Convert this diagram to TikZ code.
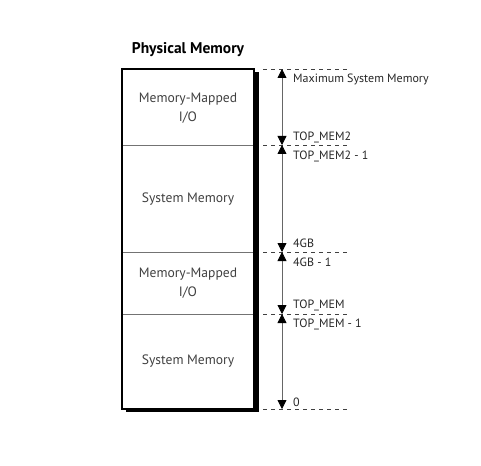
\documentclass[tikz,border=0pt]{standalone}
\usepackage{fontspec}
\setmainfont{PT Sans}
\usetikzlibrary{arrows.meta}

\tikzset{
  boxtext/.style={text=black!75, font=\fontsize{13.6}{15}\selectfont, align=center},
  levellabel/.style={anchor=west, text=black!85, font=\fontsize{12}{14}\selectfont, inner sep=0pt},
  levelline/.style={dashed, dash pattern=on 4pt off 4pt, black!75, line width=0.6pt},
  span/.style={{Triangle[width=9pt,length=9pt,color=black]}-{Triangle[width=9pt,length=9pt,color=black]}, black!60, line width=0.8pt}
}

\begin{document}
\begin{tikzpicture}[x=1pt, y=-1pt]
    \useasboundingbox (0,0) rectangle (481,465);

    % Title
    \node[font=\fontsize{15.5}{18}\selectfont\bfseries] (title) at (188,50) {Physical Memory};

    % Shadow of the memory map
    \fill[black] (254,72) rectangle (259,412);
    \fill[black] (126,408) rectangle (259,412);

    % Memory map (outer frame and dividers)
    \draw[black!55, line width=0.8pt] (122,145) -- (254,145);
    \draw[black!55, line width=0.8pt] (122,252) -- (254,252);
    \draw[black!55, line width=0.8pt] (122,314) -- (254,314);
    \draw[line width=1.6pt] (122,69) rectangle (254,409);

    % Region names
    \node[boxtext] (mmiohigh) at (188,108) {Memory-Mapped\\[4pt]I/O};
    \node[boxtext] (sysmemhigh) at (188,199) {System Memory};
    \node[boxtext] (mmiolow) at (188,283) {Memory-Mapped\\[4pt]I/O};
    \node[boxtext] (sysmemlow) at (188,361) {System Memory};

    % Address levels on the scale
    \coordinate (maxmem) at (282,69);
    \coordinate (topmemtwo) at (282,145);
    \coordinate (fourgb) at (282,252);
    \coordinate (topmem) at (282,314);
    \coordinate (zero) at (282,409);

    % Dashed marks for each level
    \draw[levelline] (263,69) -- (350,69);
    \draw[levelline] (263,145) -- (350,145);
    \draw[levelline] (263,252) -- (350,252);
    \draw[levelline] (263,314) -- (350,314);
    \draw[levelline] (263,409) -- (350,409);

    % Spans between levels
    \draw[span] (topmemtwo) -- (maxmem);
    \draw[span] (fourgb) -- (topmemtwo);
    \draw[span] (topmem) -- (fourgb);
    \draw[span] (zero) -- (topmem);

    % Level labels
    \node[levellabel] (lblmax) at (293,79) {Maximum System Memory};
    \node[levellabel] (lbltwo) at (293,137) {TOP\_MEM2};
    \node[levellabel] (lbltwoless) at (293,156) {TOP\_MEM2 - 1};
    \node[levellabel] (lblfour) at (293,243) {4GB};
    \node[levellabel] (lblfourless) at (293,262) {4GB - 1};
    \node[levellabel] (lbltop) at (293,305) {TOP\_MEM};
    \node[levellabel] (lbltopless) at (293,324) {TOP\_MEM - 1};
    \node[levellabel] (lblzero) at (293,402) {0};
\end{tikzpicture}
\end{document}
